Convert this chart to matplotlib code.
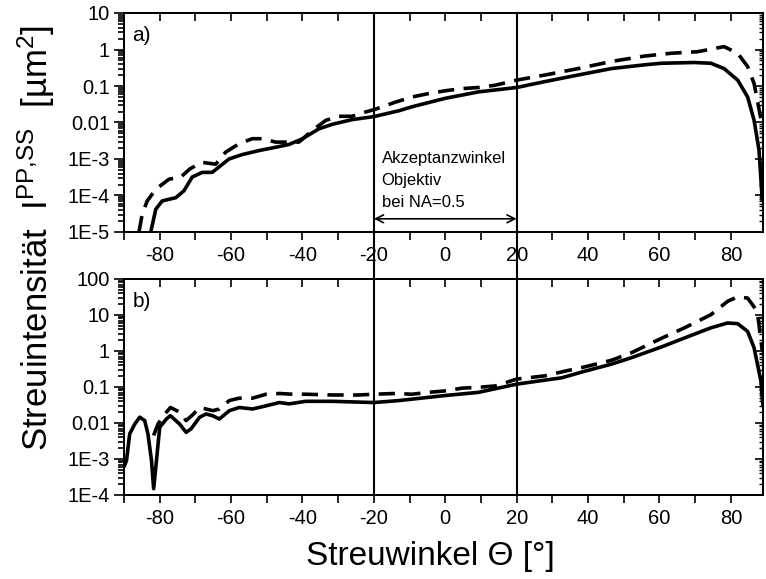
import matplotlib
matplotlib.use("Agg")
import matplotlib.pyplot as plt
from matplotlib.ticker import LogLocator, MultipleLocator, FixedLocator, FixedFormatter, NullFormatter
from matplotlib.lines import Line2D
from matplotlib.transforms import blended_transform_factory

plt.rcParams['font.family'] = ['Liberation Sans', 'DejaVu Sans']
plt.rcParams['mathtext.fontset'] = 'custom'
plt.rcParams['mathtext.rm'] = 'Liberation Sans'
plt.rcParams['mathtext.default'] = 'regular'

# ---------------- data ----------------
# panel a) solid
a_solid_x = [-82.5, -81.1, -79.3, -75.5, -73.2, -70.9, -68.1, -65.3, -62.9, -60.6, -56.9, -52.2,
             -47.5, -43.8, -40.1, -35.4, -31.7, -26.1, -20.0, -13.0, -9.3, 0.0, 9.3, 20.0, 27.9,
             37.2, 46.5, 55.8, 60.5, 69.8, 74.4, 78.1, 81.9, 84.7, 86.5, 87.9, 88.8]
a_solid_y = [1.0e-5, 4.2e-5, 7.1e-5, 8.7e-5, 1.35e-4, 3.2e-4, 4.3e-4, 4.3e-4, 6.6e-4, 1.0e-3,
             1.32e-3, 1.7e-3, 2.1e-3, 2.5e-3, 3.55e-3, 6.7e-3, 8.9e-3, 1.2e-2, 1.45e-2, 2.1e-2,
             2.7e-2, 4.6e-2, 6.9e-2, 9.1e-2, 0.132, 0.20, 0.30, 0.38, 0.42, 0.44, 0.42, 0.30,
             0.145, 0.050, 0.0115, 1.7e-3, 7.0e-5]
# panel a) dashed
a_dash_x = [-85.8, -84.9, -83.5, -81.1, -77.4, -74.1, -71.5, -68.1, -64.3, -61.5, -57.8, -54.1,
            -51.3, -47.5, -43.8, -41.0, -37.3, -33.5, -29.8, -26.1, -22.3, -20.0, -14.0, -9.3,
            -4.7, 0.0, 4.7, 9.3, 14.0, 20.0, 27.9, 37.2, 46.5, 55.8, 63.3, 70.7, 78.1, 81.9,
            84.7, 86.5, 87.4, 88.6]
a_dash_y = [1.0e-5, 3.1e-5, 7.1e-5, 1.48e-4, 2.8e-4, 3.2e-4, 5.4e-4, 8.1e-4, 7.2e-4, 1.55e-3,
            2.6e-3, 3.6e-3, 3.6e-3, 2.9e-3, 2.9e-3, 2.9e-3, 6.0e-3, 1.14e-2, 1.48e-2, 1.48e-2,
            1.95e-2, 2.24e-2, 3.6e-2, 5.0e-2, 6.2e-2, 7.4e-2, 8.5e-2, 9.1e-2, 0.105, 0.145,
            0.20, 0.30, 0.47, 0.66, 0.79, 0.87, 1.2, 0.79, 0.34, 0.117, 0.041, 0.01]
# panel b) solid
b_solid_x = [-90.0, -89.3, -88.4, -87.0, -85.6, -84.2, -83.3, -82.3, -81.7, -80.9, -80.0, -78.1,
             -77.0, -74.4, -72.6, -71.2, -68.8, -67.0, -65.1, -63.3, -60.5, -57.7, -54.0, -50.2,
             -46.5, -43.7, -39.1, -31.6, -20.0, -13.0, -9.3, 0.0, 9.3, 20.0, 27.9, 32.6, 39.1,
             46.5, 52.1, 60.5, 67.0, 74.4, 79.1, 81.9, 84.7, 86.5, 88.4, 89.0]
b_solid_y = [6.0e-4, 9.1e-4, 5.0e-3, 9.3e-3, 1.45e-2, 1.17e-2, 5.0e-3, 9.1e-4, 1.5e-4, 9.1e-4,
             7.6e-3, 1.3e-2, 1.6e-2, 9.3e-3, 5.5e-3, 6.9e-3, 1.45e-2, 1.78e-2, 1.58e-2, 1.29e-2,
             2.2e-2, 2.7e-2, 2.45e-2, 3.0e-2, 3.7e-2, 3.4e-2, 4.0e-2, 4.0e-2, 3.7e-2, 4.2e-2,
             4.6e-2, 5.8e-2, 7.1e-2, 0.12, 0.155, 0.18, 0.275, 0.43, 0.65, 1.29, 2.3, 4.4, 6.0,
             5.75, 3.5, 1.23, 0.148, 0.03]
# panel b) dashed
b_dash_x = [-81.7, -80.5, -78.5, -77.0, -74.4, -72.6, -71.0, -68.8, -65.1, -63.3, -60.5, -57.7,
            -54.0, -50.2, -46.5, -42.8, -39.1, -31.6, -24.2, -20.0, -14.0, -9.3, -4.7, 0.0, 4.7,
            9.3, 14.0, 20.0, 27.9, 33.5, 39.1, 46.5, 52.1, 60.5, 67.0, 74.4, 79.1, 81.9, 84.7,
            87.4, 88.8]
b_dash_y = [4.5e-3, 9.3e-3, 1.8e-2, 2.7e-2, 2.0e-2, 1.17e-2, 1.6e-2, 2.7e-2, 2.2e-2, 2.45e-2,
            4.2e-2, 4.9e-2, 4.9e-2, 6.3e-2, 6.6e-2, 6.3e-2, 6.3e-2, 6.0e-2, 6.0e-2, 6.3e-2,
            6.6e-2, 6.3e-2, 7.1e-2, 7.8e-2, 9.3e-2, 9.8e-2, 0.107, 0.166, 0.204, 0.275, 0.363,
            0.55, 0.89, 2.24, 4.4, 10.2, 24.0, 32.0, 29.5, 12.6, 1.0]

x_ticks = [-80, -60, -40, -20, 0, 20, 40, 60, 80]
x_ticklabels = ["-80", "-60", "-40", "-20", "0", "20", "40", "60", "80"]
a_yticks = [1e-5, 1e-4, 1e-3, 1e-2, 1e-1, 1, 10]
a_yticklabels = ["1E-5", "1E-4", "1E-3", "0.01", "0.1", "1", "10"]
b_yticks = [1e-4, 1e-3, 1e-2, 1e-1, 1, 10, 100]
b_yticklabels = ["1E-4", "1E-3", "0.01", "0.1", "1", "10", "100"]
acceptance = [-20, 20]

# ---------------- figure ----------------
W, H = 766, 579
fig = plt.figure(figsize=(W / 100, H / 100), dpi=100)
ax1 = fig.add_axes([124 / W, 1 - 232 / H, 639 / W, 219 / H])
ax2 = fig.add_axes([124 / W, 1 - 495 / H, 639 / W, 216 / H])

lw = 2.6
dash = (0, (4.5, 2.6))
for ax, sx, sy, dx, dy, yt, ytl, ylim in [
        (ax1, a_solid_x, a_solid_y, a_dash_x, a_dash_y, a_yticks, a_yticklabels, (1e-5, 10)),
        (ax2, b_solid_x, b_solid_y, b_dash_x, b_dash_y, b_yticks, b_yticklabels, (1e-4, 100))]:
    ax.plot(sx, sy, color='black', lw=lw, solid_capstyle='butt', solid_joinstyle='round')
    ax.plot(dx, dy, color='black', lw=lw, linestyle=dash, dash_capstyle='butt',
            dash_joinstyle='round')
    ax.set_yscale('log')
    ax.set_xlim(-90, 89)
    ax.set_ylim(*ylim)
    ax.yaxis.set_major_locator(FixedLocator(yt))
    ax.yaxis.set_major_formatter(FixedFormatter(ytl))
    ax.yaxis.set_minor_locator(LogLocator(base=10, subs=range(2, 10), numticks=20))
    ax.yaxis.set_minor_formatter(NullFormatter())
    ax.xaxis.set_major_locator(FixedLocator(x_ticks))
    ax.xaxis.set_major_formatter(FixedFormatter(x_ticklabels))
    ax.xaxis.set_minor_locator(MultipleLocator(10))
    for s in ax.spines.values():
        s.set_linewidth(1.3)
    ax.tick_params(axis='both', which='both', labelsize=14.5, width=1.2)
    ax.tick_params(axis='x', which='both', direction='out', length=6, pad=4, bottom=True, top=False)
    ax.tick_params(axis='y', which='major', direction='out', length=7, pad=3, left=True, right=False)
    ax.tick_params(axis='y', which='minor', direction='out', length=4, left=True, right=False)
    for xv in acceptance:
        ax.axvline(xv, color='black', lw=1.5)

    # inward ticks on top and right
    axt = ax.twiny()
    axt.set_xlim(ax.get_xlim())
    axt.xaxis.set_major_locator(MultipleLocator(10))
    axt.xaxis.set_minor_locator(FixedLocator([]))
    axt.tick_params(axis='x', direction='in', length=6, width=1.2, labeltop=False)
    axr = ax.twinx()
    axr.set_yscale('log')
    axr.set_ylim(ax.get_ylim())
    axr.yaxis.set_major_locator(FixedLocator(yt))
    axr.yaxis.set_minor_locator(LogLocator(base=10, subs=range(2, 10), numticks=20))
    axr.tick_params(axis='y', which='major', direction='in', length=6, width=1.2, labelright=False)
    axr.tick_params(axis='y', which='minor', direction='in', length=3, width=1.0, labelright=False)
    for a in (axt, axr):
        for s in a.spines.values():
            s.set_linewidth(1.3)

# connect the vertical acceptance lines through the gap
tr = blended_transform_factory(ax1.transData, fig.transFigure)
for xv in acceptance:
    fig.add_artist(Line2D([xv, xv], [1 - 279 / H, 1 - 232 / H], transform=tr,
                          color='black', lw=1.5))

# panel labels
ax1.text(0.013, 0.895, "a)", transform=ax1.transAxes, fontsize=15, ha='left', va='center')
ax2.text(0.013, 0.898, "b)", transform=ax2.transAxes, fontsize=15, ha='left', va='center')

# annotation
ax1.annotate('', xy=(-20, 2.3e-5), xytext=(20, 2.3e-5),
             arrowprops=dict(arrowstyle='<->', lw=1.2, color='black',
                             shrinkA=0, shrinkB=0, mutation_scale=14))
ax1.text(-17.8, 7.8e-4, "Akzeptanzwinkel", fontsize=12, ha='left', va='baseline')
ax1.text(-17.8, 1.94e-4, "Objektiv", fontsize=12, ha='left', va='baseline')
ax1.text(-17.8, 4.8e-5, "bei NA=0.5", fontsize=12, ha='left', va='baseline')

# axis labels
fig.text(430 / W, 1 - 565 / H, "Streuwinkel \u0398 [\u00b0]", fontsize=24,
         ha='center', va='baseline')
fig.text(36 / W, 1 - 238 / H, "Streuintensität  I$^{PP{,}SS}$  [µm$^{2}$]", fontsize=25,
         ha='center', va='center', rotation=90)

fig.savefig("out.png", dpi=100)
